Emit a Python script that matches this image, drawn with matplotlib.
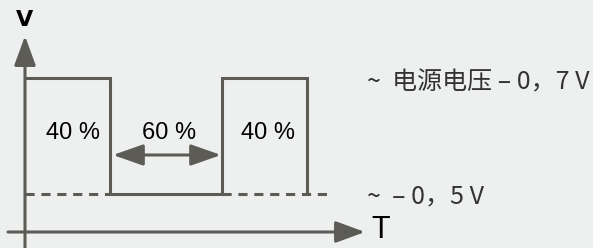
import matplotlib.pyplot as plt

# waveform (time in arbitrary units from the V axis, level above the T axis)
edge_t = [0, 85, 197, 282]
v_high = 154
v_low = 38
dash_left = [0, 85]
dash_right = [197, 308]

duty_labels = ["40 %", "60 %", "40 %"]
duty_label_t = [48, 144, 243]
level_labels = ["~  电源电压 – 0，7 V", "~  – 0，5 V"]

bg = "#eef0ef"
ink = "#5d5b56"

fig = plt.figure(figsize=(5.93, 2.48), dpi=100, facecolor=bg)
ax = fig.add_axes([0, 0, 1, 1])
ax.set_facecolor(bg)
ax.set_xlim(-25, 568)
ax.set_ylim(-16, 232)
ax.axis('off')

# dashed low level (drawn under the pulses)
ax.plot(dash_left, [v_low, v_low], color=ink, lw=2.2, ls=(0, (3, 2.2)))
ax.plot(dash_right, [v_low, v_low], color=ink, lw=2.2, ls=(0, (3, 2.2)))

# pulse train
t = [edge_t[0], edge_t[1], edge_t[1], edge_t[2], edge_t[2], edge_t[3], edge_t[3]]
v = [v_high, v_high, v_low, v_low, v_high, v_high, v_low]
ax.plot(t, v, color=ink, lw=2.2, solid_joinstyle='miter')

# axes with arrow heads
arr = dict(arrowstyle='-|>,head_length=1.8,head_width=0.66', mutation_scale=10,
           lw=2.2, color=ink, shrinkA=0, shrinkB=0)
ax.annotate('', xy=(0, 196), xytext=(0, -16), arrowprops=arr)
ax.annotate('', xy=(340, 0), xytext=(-17, 0), arrowprops=arr)

# 60 % double arrow
darr = dict(arrowstyle='<|-|>,head_length=1.85,head_width=0.65', mutation_scale=10,
            lw=2.2, color=ink, shrinkA=0, shrinkB=0)
ax.annotate('', xy=(88, 77), xytext=(196, 77), arrowprops=darr)

ax.text(0, 212, "V", ha='center', va='center', fontsize=16, fontweight='bold',
        family='DejaVu Sans', color='black')
ax.text(346, 2, "T", ha='left', va='center', fontsize=22,
        family='Liberation Sans', color='black')

for lab, x in zip(duty_labels, duty_label_t):
    ax.text(x, 99, lab, ha='center', va='center', fontsize=17,
            family='Liberation Sans', color='black')

cjk = ['Noto Sans CJK SC', 'DejaVu Sans']
ax.text(342, 150, level_labels[0], ha='left', va='center', fontsize=18,
        family=cjk, fontweight='light', color='#333333')
ax.text(342, 36, level_labels[1], ha='left', va='center', fontsize=18,
        family=cjk, fontweight='light', color='#333333')

fig.savefig('out.png', dpi=100, facecolor=bg)
